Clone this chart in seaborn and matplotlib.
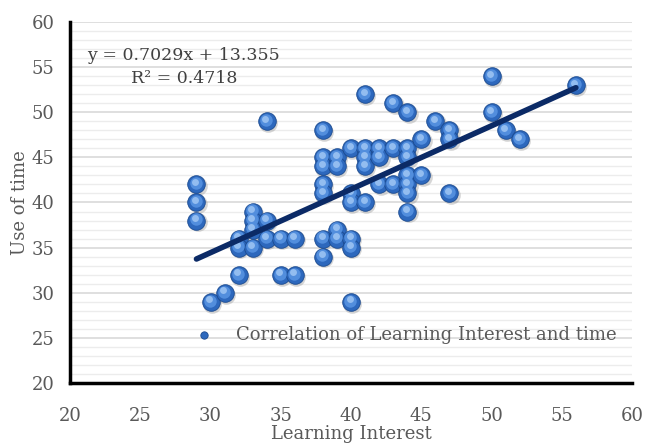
import numpy as np
import pandas as pd
import matplotlib.pyplot as plt
from matplotlib.ticker import MultipleLocator
import seaborn as sns

# Data
learning_interest = [29, 29, 29, 30, 31, 32, 32, 32, 33, 33, 33, 33, 34, 34, 34,
                     35, 35, 36, 36, 38, 38, 38, 38, 38, 38, 38, 39, 39, 39, 39,
                     40, 40, 40, 40, 40, 40, 41, 41, 41, 41, 41, 42, 42, 42, 43,
                     43, 43, 44, 44, 44, 44, 44, 44, 44, 45, 45, 46, 47, 47, 47,
                     50, 50, 51, 52, 56]
use_of_time = [42, 40, 38, 29, 30, 36, 35, 32, 39, 38, 37, 35, 49, 38, 36,
               36, 32, 36, 32, 48, 45, 44, 42, 41, 36, 34, 45, 44, 37, 36,
               46, 41, 40, 36, 35, 29, 52, 46, 45, 44, 40, 46, 45, 42, 51,
               46, 42, 50, 46, 45, 43, 42, 41, 39, 47, 43, 49, 48, 47, 41,
               54, 50, 48, 47, 53]
slope = 0.7029
intercept = 13.355
r_squared = 0.4718

df = pd.DataFrame({"Learning Interest": learning_interest, "Use of time": use_of_time})

sns.set_style("white")
plt.rcParams["font.family"] = ["DejaVu Serif"]

fig = plt.figure(figsize=(6.45, 4.45), dpi=100)
ax = fig.add_axes([0.1085, 0.1393, 0.8715, 0.8113])

# grid: major every 5, minor every 1 (horizontal only)
ax.yaxis.set_major_locator(MultipleLocator(5))
ax.yaxis.set_minor_locator(MultipleLocator(1))
ax.xaxis.set_major_locator(MultipleLocator(5))
ax.grid(axis="y", which="major", color="#d9d9d9", lw=1.2, zorder=0)
ax.grid(axis="y", which="minor", color="#ececec", lw=1.0, zorder=0)
ax.set_axisbelow(True)

blue = "#2d68bd"
# shadow, sphere body, highlight
ax.scatter(df["Learning Interest"] + 0.1, df["Use of time"] - 0.2, s=180,
           color="#8a8a8a", alpha=0.35, lw=0, zorder=2)
sns.scatterplot(data=df, x="Learning Interest", y="Use of time", ax=ax,
                s=160, color=blue, edgecolor="#1b4a8f", linewidth=0.6,
                zorder=3, label="Correlation of Learning Interest and time")
ax.scatter(df["Learning Interest"] - 0.05, df["Use of time"] + 0.13, s=80,
           color="#528edd", lw=0, zorder=4)
ax.scatter(df["Learning Interest"] - 0.1, df["Use of time"] + 0.27, s=25,
           color="#93bdf0", lw=0, zorder=5)

# trend line
xs = np.array([min(learning_interest), max(learning_interest)])
ax.plot(xs, slope * xs + intercept, color="#0b2a66", lw=4, solid_capstyle="round", zorder=6)

ax.text(28.1, 55.05, f"y = {slope}x + {intercept}\nR² = {r_squared}", ha="center",
        va="center", fontsize=12.5, color="#404040", linespacing=1.45)

ax.set_xlim(20, 60)
ax.set_ylim(20, 60)
for s in ["top", "right"]:
    ax.spines[s].set_visible(False)
for s in ["left", "bottom"]:
    ax.spines[s].set_color("black")
    ax.spines[s].set_linewidth(2.5)
ax.tick_params(axis="both", which="major", direction="out", length=5, width=2.5,
               color="black", labelsize=13, labelcolor="#595959")
ax.tick_params(axis="x", which="major", pad=12)
ax.tick_params(axis="y", which="major", pad=6)
ax.tick_params(axis="both", which="minor", length=0)
ax.set_xlabel("Learning Interest", fontsize=13, color="#595959", labelpad=0)
ax.set_ylabel("Use of time", fontsize=13, color="#595959", labelpad=2)

leg = ax.legend(loc="lower left", bbox_to_anchor=(0.19, 0.083), frameon=False,
                fontsize=13, markerscale=0.42, handletextpad=0.8, borderpad=0)
for t in leg.get_texts():
    t.set_color("#595959")

fig.savefig("out.png", dpi=100)
